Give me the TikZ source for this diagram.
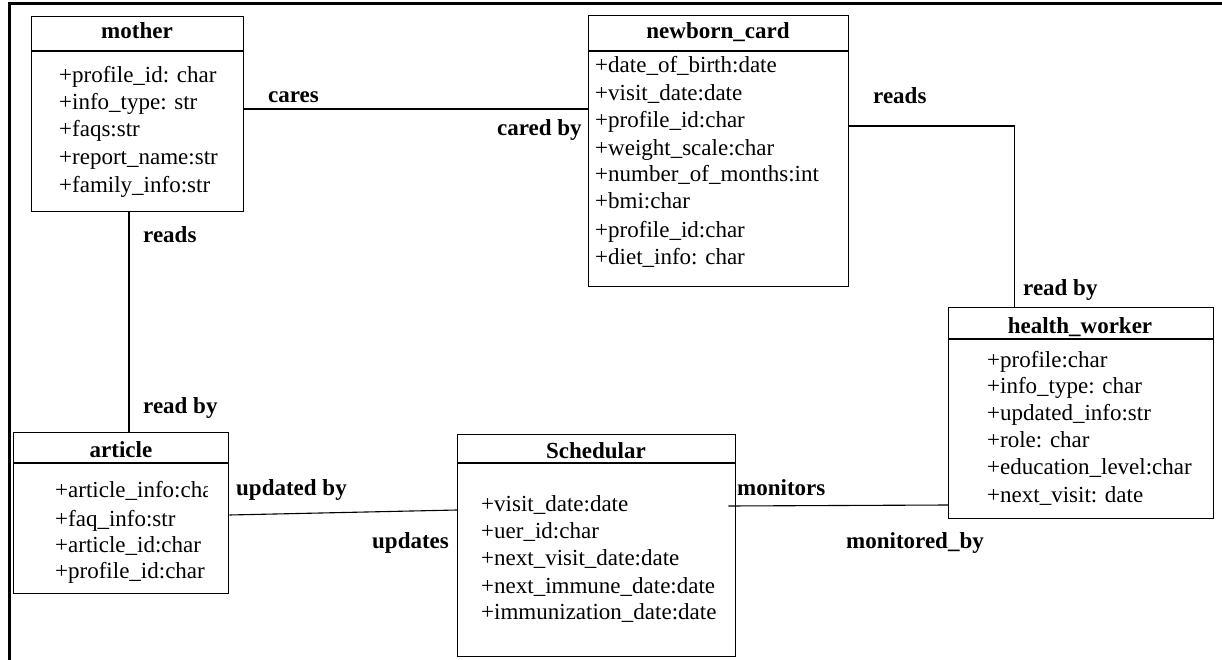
\documentclass[tikz,border=0pt]{standalone}
\usepackage{fontspec}
\setmainfont{Liberation Serif}
\tikzset{
  umlbox/.style={draw, line width=1.4pt, rectangle, inner sep=0pt, anchor=north west},
  attr/.style={anchor=base west, inner sep=0pt, font=\fontsize{23}{27}\selectfont},
  ttl/.style={anchor=base, inner sep=0pt, font=\fontsize{23}{27}\selectfont\bfseries},
  lbl/.style={anchor=base west, inner sep=0pt, font=\fontsize{23}{27}\selectfont\bfseries},
  conn/.style={line width=1.1pt},
  hdr/.style={line width=1.4pt}
}
\begin{document}
\begin{tikzpicture}[x=1pt,y=-1pt]
\useasboundingbox (0,0) rectangle (1222,660);
% outer frame (top and left only)
\draw[line width=3pt] (9,660) -- (9,4) -- (1222,4);

% mother
\node[umlbox, minimum width=212pt, minimum height=195pt] (mother) at (31,16) {};
\draw[hdr] ([yshift=-35pt]mother.north west) -- ([yshift=-35pt]mother.north east);
\node[ttl] (motherT) at (137,39) {mother};
\node[attr] (m1) at (59,83) {+profile\_id: char};
\node[attr] (m2) at (59,110) {+info\_type: str};
\node[attr] (m3) at (59,137) {+faqs:str};
\node[attr] (m4) at (59,165) {+report\_name:str};
\node[attr] (m5) at (59,193) {+family\_info:str};

% newborn_card
\node[umlbox, minimum width=260pt, minimum height=271pt] (newborn) at (588,15) {};
\draw[hdr] ([yshift=-36pt]newborn.north west) -- ([yshift=-36pt]newborn.north east);
\node[ttl] (newbornT) at (718,39) {newborn\_card};
\node[attr] (n1) at (595,73) {+date\_of\_birth:date};
\node[attr] (n2) at (595,101) {+visit\_date:date};
\node[attr] (n3) at (595,128) {+profile\_id:char};
\node[attr] (n4) at (595,156) {+weight\_scale:char};
\node[attr] (n5) at (595,182) {+number\_of\_months:int};
\node[attr] (n6) at (595,209) {+bmi:char};
\node[attr] (n7) at (595,237) {+profile\_id:char};
\node[attr] (n8) at (595,264) {+diet\_info: char};

% health_worker
\node[umlbox, minimum width=265pt, minimum height=211pt] (health) at (948,307) {};
\draw[hdr] ([yshift=-32pt]health.north west) -- ([yshift=-32pt]health.north east);
\node[ttl] (healthT) at (1080,333) {health\_worker};
\node[attr] (h1) at (987,367) {+profile:char};
\node[attr] (h2) at (987,393) {+info\_type: char};
\node[attr] (h3) at (987,420) {+updated\_info:str};
\node[attr] (h4) at (987,447) {+role: char};
\node[attr] (h5) at (987,474) {+education\_level:char};
\node[attr] (h6) at (987,502) {+next\_visit: date};

% article
\node[umlbox, minimum width=215pt, minimum height=161pt] (article) at (13,432) {};
\draw[hdr] ([yshift=-31pt]article.north west) -- ([yshift=-31pt]article.north east);
\node[ttl] (articleT) at (121,457) {article};
\begin{scope}
\clip (14,470) rectangle (207,592);
\node[attr] (a1) at (55,497) {+article\_info:char};
\node[attr] (a2) at (55,526) {+faq\_info:str};
\node[attr] (a3) at (55,552) {+article\_id:char};
\node[attr] (a4) at (55,578) {+profile\_id:char};
\end{scope}

% Schedular
\node[umlbox, minimum width=278pt, minimum height=222pt] (sched) at (457,434) {};
\draw[hdr] ([yshift=-29pt]sched.north west) -- ([yshift=-29pt]sched.north east);
\node[ttl] (schedT) at (596,458) {Schedular};
\node[attr] (s1) at (481,511) {+visit\_date:date};
\node[attr] (s2) at (481,538) {+uer\_id:char};
\node[attr] (s3) at (481,565) {+next\_visit\_date:date};
\node[attr] (s4) at (481,593) {+next\_immune\_date:date};
\node[attr] (s5) at (481,619) {+immunization\_date:date};

% connectors
\draw[conn] (mother.east |- 0,109) -- (newborn.west |- 0,109);
\draw[conn] (newborn.east |- 0,126) -| ([xshift=-67pt]health.north);
\draw[conn] (mother.south -| 129,0) -- (article.north -| 129,0);
\draw[conn] (article.east |- 0,515) -- (sched.west |- 0,510);
\path (sched.east |- 0,506) coordinate (schedE);
\draw[conn] ([xshift=-8pt]schedE) -- (health.west |- 0,505);

% labels
\node[lbl] (l1) at (268,103) {cares};
\node[lbl] (l2) at (497,136) {cared by};
\node[lbl] (l3) at (873,104) {reads};
\node[lbl] (l4) at (1023,295) {read by};
\node[lbl] (l5) at (143,242) {reads};
\node[lbl] (l6) at (143,413) {read by};
\node[lbl] (l7) at (236,495) {updated by};
\node[lbl] (l8) at (372,548) {updates};
\node[lbl] (l9) at (737,495) {monitors};
\node[lbl] (l10) at (846,548) {monitored\_by};
\end{tikzpicture}
\end{document}
